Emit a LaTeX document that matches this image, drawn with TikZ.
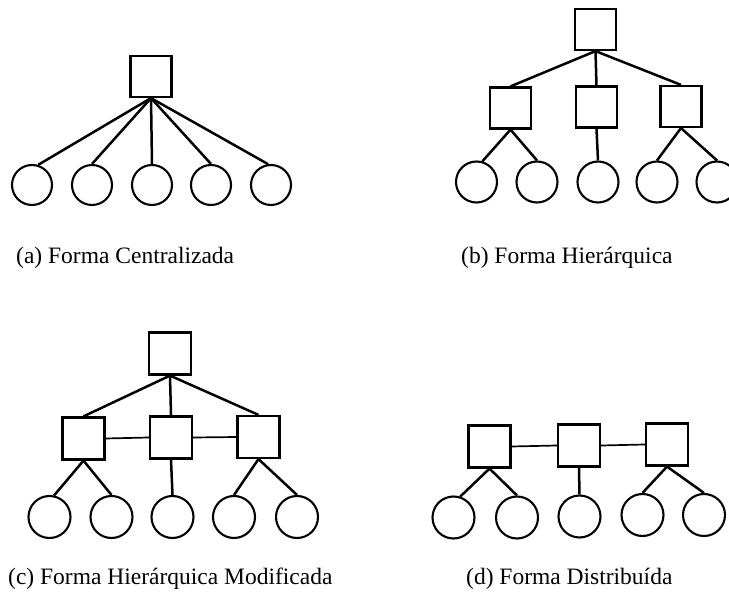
\documentclass[tikz,border=0pt]{standalone}
\usepackage{fontspec}
\setmainfont{Liberation Serif}
\begin{document}
\begin{tikzpicture}[x=1pt,y=-1pt,
  box/.style={draw, line width=2.2pt, minimum size=41pt, inner sep=0pt},
  leaf/.style={draw, circle, line width=2.1pt, minimum size=41pt, inner sep=0pt},
  link/.style={line width=2.5pt},
  peer/.style={line width=1.7pt},
  caption/.style={anchor=base west, inner sep=0pt, font=\fontsize{23.5}{28}\selectfont}]
\useasboundingbox (0,0) rectangle (729,596);
\clip (0,0) rectangle (729,596);

% (a) centralised: one controller, five terminals
\node[box] (a0) at (151,76.5) {};
\foreach \i/\x in {1/32,2/92,3/152,4/211,5/271}
  \node[leaf, minimum size=40pt] (a\i) at (\x,185) {};
\draw[link] (a0.south) -- (a1.73);
\draw[link] (a0.south) -- (a2.north);
\draw[link] (a0.south) -- (a3.north);
\draw[link] (a0.south) -- (a4.north);
\draw[link] (a0.south) -- (a5.98);
\node[caption] (capa) at (16,263.5) {(a) Forma Centralizada};

% (b) hierarchical
\node[box] (b0) at (595.5,29.5) {};
\node[box] (b1) at (510.5,108) {};
\node[box] (b2) at (596.5,107) {};
\node[box] (b3) at (681,106.5) {};
\foreach \i/\x in {1/476.5,2/537,3/598,4/657,5/717}
  \node[leaf] (bc\i) at (\x,182) {};
\draw[link] (b0.south) -- (b1.north);
\draw[link] (b0.south) -- (b2.north);
\draw[link] (b0.south) -- (b3.north);
\draw[link] (b1.south) -- (bc1.74);
\draw[link] (b1.south) -- (bc2.north);
\draw[link] (b2.south) -- (bc3.north);
\draw[link] (b3.south) -- (bc4.north);
\draw[link] (b3.south) -- (bc5.north);
\node[caption] (capb) at (461,263.5) {(b) Forma Hierárquica};

% (c) modified hierarchical: middle level also linked sideways
\node[box, minimum size=42pt] (c0) at (170,353.5) {};
\node[box, minimum size=42pt] (c1) at (83.5,438.5) {};
\node[box, minimum size=42pt] (c2) at (171,437.5) {};
\node[box, minimum size=42pt] (c3) at (258.5,437) {};
\foreach \i/\x in {1/49.5,2/111.5,3/172.5,4/234,5/297}
  \node[leaf, minimum size=42pt] (cc\i) at (\x,517) {};
\draw[link] (c0.south) -- (c1.north);
\draw[link] (c0.south) -- (c2.north);
\draw[link] (c0.south) -- (c3.north);
\draw[peer] (c1.east) -- (c2.west);
\draw[peer] (c2.east) -- (c3.west);
\draw[link] (c1.south) -- (cc1.78);
\draw[link] (c1.south) -- (cc2.north);
\draw[link] (c2.south) -- (cc3.north);
\draw[link] (c3.south) -- (cc4.north);
\draw[link] (c3.south) -- (cc5.north);
\node[caption] (capc) at (8,584.5) {(c) Forma Hierárquica Modificada};

% (d) distributed: controllers in a chain
\node[box, minimum size=42pt] (d1) at (489.5,446.5) {};
\node[box, minimum size=42pt] (d2) at (579,445.5) {};
\node[box, minimum size=42pt] (d3) at (667,444.5) {};
\foreach \i/\x/\y in {1/453.5/517.5,2/517/517.5,3/579.5/516.5,4/642.5/515,5/704/515}
  \node[leaf, minimum size=42pt] (dc\i) at (\x,\y) {};
\draw[peer] (d1.east) -- (d2.west);
\draw[peer] (d2.east) -- (d3.west);
\draw[link] (d1.south) -- (dc1.72);
\draw[link] (d1.south) -- (dc2.north);
\draw[link] (d2.south) -- (dc3.north);
\draw[link] (d3.south) -- (dc4.north);
\draw[link] (d3.south) -- (dc5.north);
\node[caption] (capd) at (466,584.5) {(d) Forma Distribuída};
\end{tikzpicture}
\end{document}
